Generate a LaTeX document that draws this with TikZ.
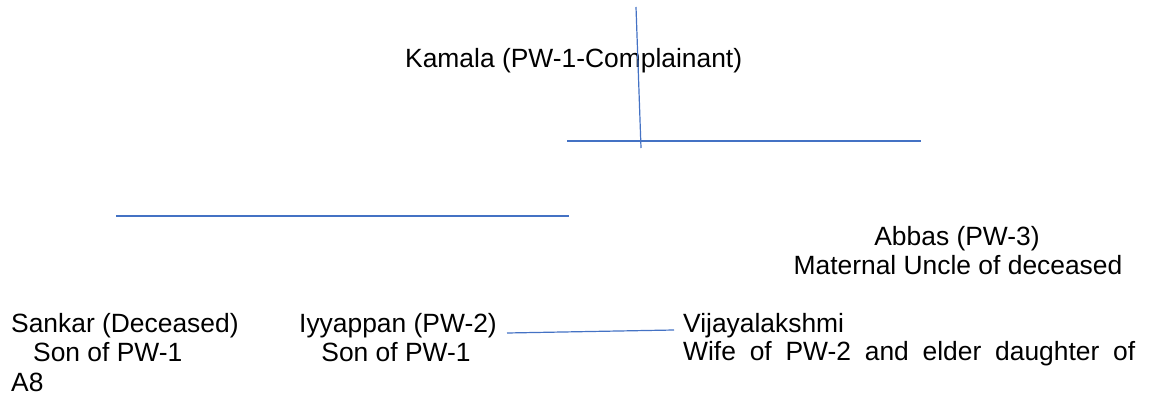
\documentclass[tikz,border=0pt]{standalone}
\usepackage{fontspec}
\setmainfont{Liberation Sans}
\usepackage{tikz}
\usetikzlibrary{calc}
\usetikzlibrary{positioning}
\definecolor{linkblue}{HTML}{4472C4}
\tikzset{person/.style={inner sep=0pt,anchor=base west,font=\fontsize{26.4}{29.5}\selectfont}}

\begin{document}
\begin{tikzpicture}[x=1pt,y=-1pt]
\tikzset{tie/.style={draw=linkblue,line width=1.2pt}}
\useasboundingbox (0,0) rectangle (1149,396);
%\node[person] (k) at (405,67) {Kamala};
\node[person] (kamala) at (405,67) {Kamala (PW-1-Complainant)};
\node[person,anchor=base] (abbas) at (957,245) {Abbas (PW-3)};
\node[person,anchor=base] (abbas2) at (958,274) {Maternal Uncle of deceased};
\node[person] (sankar) at (11,332) {Sankar (Deceased)};
\node[person] (sankar2) at (33,361) {Son of PW-1};
\node[person] (sankar3) at (11,391) {A8};
\node[person,anchor=base] (iyyappan) at (398,332) {Iyyappan (PW-2)};
\node[person,anchor=base] (iyyappan2) at (396,361) {Son of PW-1};
\node[person] (vijaya) at (683,332) {Vijayalakshmi};
\node[person] (vijaya2) at (683,360) {\makebox[452pt][s]{Wife of PW-2 and elder daughter of}};

\coordinate (top) at (636,7);
\coordinate (bot) at (641,148);
\coordinate (r1) at (567,141);
\coordinate (r2) at (921,141);
\coordinate (l1) at (116,216);
\coordinate (l2) at (569,216);
\coordinate (m1) at (507,333);
\coordinate (m2) at (674,330);
\draw[tie] (top) -- (bot);
\draw[tie] (r1) -- (r2);
\draw[tie] (l1) -- (l2);
\draw[tie] (m1) -- (m2);

%\draw[tie] (iyyappan) -- (vijaya);
\end{tikzpicture}
\end{document}
